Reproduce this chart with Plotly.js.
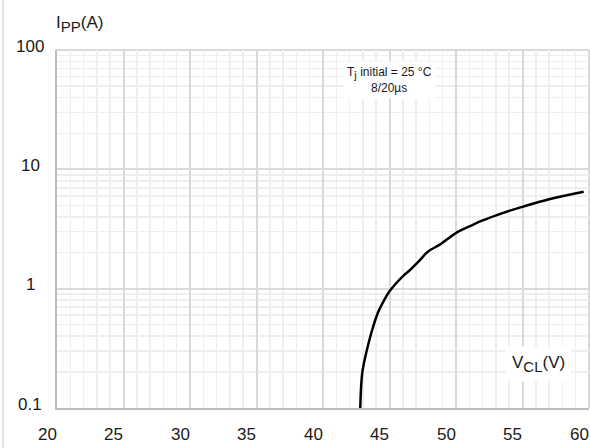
<!DOCTYPE html>
<html>
<head>
<meta charset="utf-8">
<script src="https://cdn.plot.ly/plotly-3.0.1.min.js"></script>
<style>html,body{margin:0;padding:0;background:#fff}#chart{width:590px;height:448px}</style>
</head>
<body>
<div id="chart"></div>
<script>
// ---- data ----
const vcl = [42.8, 42.95, 43.25, 43.63, 44.12, 44.62, 45.0, 45.5, 46.1, 46.5, 47.25, 47.9, 48.75, 50.1, 51.0, 52.0, 53.5, 55.0, 57.0, 59.6];
const ipp = [0.1, 0.196, 0.29, 0.425, 0.625, 0.81, 0.95, 1.11, 1.3, 1.42, 1.72, 2.05, 2.33, 2.98, 3.32, 3.73, 4.3, 4.85, 5.62, 6.5];
const xTickVals = [20, 25, 30, 35, 40, 45, 50, 55, 60];
const xTickText = ['20', '25', '30', '35', '40', '45', '50', '55', '60'];
const yTickVals = [0.1, 1, 10, 100];
const yTickText = ['0.1', '1', '10', '100'];
const xTitle = 'V<sub><span style="font-size:15px">CL</span></sub>(V)';
const yTitle = 'I<sub><span style="font-size:15px">PP</span></sub>(A)';
const noteText = 'T<sub><span style="font-size:11px">j</span></sub> initial = 25 °C<br>8/20µs';

const FONT = 'Liberation Sans, Arial, sans-serif';
const W = 590, H = 448;
const M = {l: 57, r: 1, t: 50, b: 40};
const PW = W - M.l - M.r, PH = H - M.t - M.b;
const px2x = p => (p - M.l) / PW;
const py2y = p => (H - M.b - p) / PH;

const annotations = [];
xTickVals.forEach((v, i) => annotations.push({
  xref: 'x', x: v, yref: 'paper', y: 0, yanchor: 'middle', xanchor: 'center',
  yshift: -26, xshift: -10, text: xTickText[i], showarrow: false,
  font: {family: FONT, size: 17, color: '#1a1a1a'}
}));
yTickVals.forEach((v, i) => annotations.push({
  xref: 'paper', x: px2x(30), yref: 'y', y: Math.log10(v), yanchor: 'middle', xanchor: 'center',
  yshift: 4, text: yTickText[i], showarrow: false,
  font: {family: FONT, size: 17, color: '#1a1a1a'}
}));
annotations.push({
  xref: 'paper', x: px2x(54), yref: 'paper', y: py2y(24), xanchor: 'left', yanchor: 'middle',
  text: yTitle, showarrow: false, font: {family: FONT, size: 17, color: '#1a1a1a'}
});
annotations.push({
  xref: 'paper', x: px2x(538), yref: 'paper', y: py2y(364), xanchor: 'center', yanchor: 'middle',
  text: xTitle, showarrow: false, bgcolor: '#ffffff', borderpad: 6,
  font: {family: FONT, size: 17, color: '#1a1a1a'}
});
annotations.push({
  xref: 'paper', x: px2x(389), yref: 'paper', y: py2y(80), xanchor: 'center', yanchor: 'middle',
  text: noteText, showarrow: false, bgcolor: '#ffffff', borderpad: 3,
  font: {family: FONT, size: 12, color: '#1a1a1a'}
});

const data = [{
  x: vcl, y: ipp, type: 'scatter', mode: 'lines',
  line: {color: '#000000', width: 2.5, shape: 'spline', smoothing: 1},
  hoverinfo: 'skip'
}];

const layout = {
  width: W, height: H, margin: M,
  paper_bgcolor: '#ffffff', plot_bgcolor: '#ffffff',
  showlegend: false,
  xaxis: {
    range: [20, 60], dtick: 5, tick0: 20, showticklabels: false, ticks: '',
    showgrid: true, gridcolor: '#d9d9d9', gridwidth: 2, zeroline: false,
    showline: true, linecolor: '#bdbdbd', linewidth: 2,
    minor: {dtick: 1, showgrid: true, gridcolor: '#eeeeee', gridwidth: 1.5, ticks: ''}
  },
  yaxis: {
    type: 'log', range: [-1, 2], dtick: 1, showticklabels: false, ticks: '',
    showgrid: true, gridcolor: '#d9d9d9', gridwidth: 2, zeroline: false,
    showline: true, linecolor: '#bdbdbd', linewidth: 2,
    minor: {dtick: 'D1', showgrid: true, gridcolor: '#eeeeee', gridwidth: 1.5, ticks: ''}
  },
  shapes: [
    {type: 'line', xref: 'paper', yref: 'paper', x0: px2x(3), x1: px2x(3), y0: py2y(H), y1: py2y(0),
     line: {color: '#d6dade', width: 1.5}},
    {type: 'line', xref: 'paper', yref: 'paper', x0: 0, x1: 1, y0: 1, y1: 1, layer: 'below',
     line: {color: '#d9d9d9', width: 2}},
    {type: 'line', xref: 'paper', yref: 'paper', x0: 1, x1: 1, y0: 0, y1: 1, layer: 'below',
     line: {color: '#d9d9d9', width: 2}}
  ],
  annotations: annotations
};

Plotly.newPlot('chart', data, layout, {staticPlot: true, displayModeBar: false});
</script>
</body>
</html>
